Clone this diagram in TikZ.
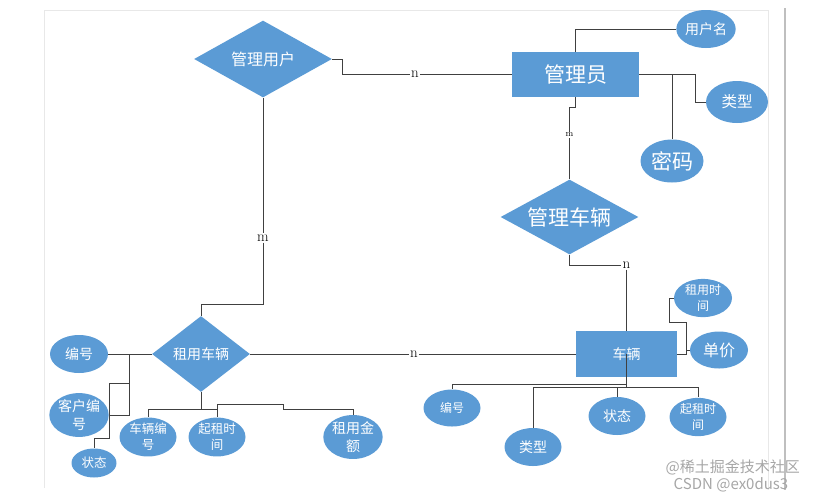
\documentclass[tikz,border=0pt]{standalone}
\usepackage{fontspec}
\usepackage{tikz}
\usetikzlibrary{shapes.geometric}
\newfontfamily\cjk{Noto Sans CJK SC}
\newcommand{\zh}[1]{\cjk\fontsize{#1}{18}\selectfont}
\newcommand{\zhtight}[1]{\cjk\fontsize{#1}{16}\selectfont}
\definecolor{erblue}{RGB}{91, 155, 213}
\definecolor{erline}{RGB}{64, 64, 64}
\definecolor{framegrey}{RGB}{232, 232, 232}
\tikzstyle{entity} = [
  rectangle,
  fill=erblue,
  text=white,
  inner sep=0pt,
]
\tikzstyle{relation} = [
  diamond,
  fill=erblue,
  text=white,
  inner sep=0pt,
  aspect=1.8,
]
\tikzstyle{attr} = [
  ellipse,
  fill=erblue,
  text=white,
  inner sep=0pt,
  align=center,
  minimum width=57pt,
  minimum height=38pt,
]
\tikzstyle{card} = [
  inner sep=1pt,
  text=black,
  font=\fontsize{15}{15}\selectfont,
]

\begin{document}
\begin{tikzpicture}[x=1pt, y=-1pt, erline, line width=0.8pt]
            \useasboundingbox (0,0) rectangle (833,499);

            % Frame of the page
            \draw[framegrey] (44,488) -- (44,10) -- (768,10) -- (768,490);
            \draw[black!25, line width=1.2pt] (785,8) -- (785,490);

            % Entities
            \node[entity, minimum width=127pt, minimum height=45pt, font=\zh{21}] (admin) at (575.5,74.5) {管理员};
            \node[entity, minimum width=101pt, minimum height=46pt, font=\zh{14}] (car) at (626.5,354) {车辆};

            % Relations
            \node[relation, minimum width=138pt, minimum height=77pt, font=\zh{16}] (manageuser) at (263,59) {管理用户};
            \node[relation, minimum width=138pt, minimum height=75pt, font=\zh{21}] (managecar) at (569.5,217) {管理车辆};
            \node[relation, minimum width=98pt, minimum height=76pt, aspect=1.3, font=\zh{14}] (rentcar) at (201,354) {租用车辆};

            % Attributes of the admin
            \node[attr, font=\zh{14}] (uname) at (706,29) {用户名};
            \node[attr, minimum width=62pt, minimum height=42pt, font=\zh{15.5}] (atype) at (737,102) {类型};
            \node[attr, minimum width=63pt, minimum height=43pt, font=\zh{21}] (pwd) at (672,161) {密码};

            % Attributes of the car
            \node[attr, minimum width=58pt, font=\zhtight{12}] (renttime) at (703,298) {租用时\\间};
            \node[attr, minimum width=58pt, minimum height=37pt, font=\zh{16}] (price) at (719,350) {单价};
            \node[attr, minimum height=37pt, font=\zh{12}] (carno) at (452,408) {编号};
            \node[attr, font=\zh{14}] (cartype) at (533,447) {类型};
            \node[attr, font=\zh{14}] (carstate) at (617,416) {状态};
            \node[attr, font=\zhtight{12}] (carstart) at (698,417) {起租时\\间};

            % Attributes of the renting
            \node[attr, minimum width=58pt, font=\zh{14}] (rentno) at (79,354) {编号};
            \node[attr, font=\zh{14}] (custno) at (79,415) {客户编\\号};
            \node[attr, minimum width=45pt, minimum height=29pt, font=\zh{12.5}] (rentstate) at (94,463) {状态};
            \node[attr, font=\zhtight{12.5}] (rentcarno) at (148,437) {车辆编\\号};
            \node[attr, font=\zhtight{12.5}] (rentstart) at (217,437) {起租时\\间};
            \node[attr, font=\zh{14}] (rentmoney) at (353,437) {租用金\\额};

            % Cardinalities
            \node[card] (n1) at (415,74.5) {n};
            \node[card, font=\fontsize{9}{9}\selectfont] (m1) at (569.5,135) {m};
            \node[card] (n2) at (626.5,265) {n};
            \node[card] (m2) at (263,238) {m};
            \node[card] (n3) at (414,354) {n};

            % Links of the admin
            \draw (manageuser.east) -- ++(10,0) |- (n1.west);
            \draw (n1.east) -- (admin.west);
            \draw (admin.north) |- (uname.west);
            \draw (admin.east) -- ++(56,0) |- (atype.west);
            \draw (pwd.north) -- (pwd.north |- admin.east);
            \draw (admin.south) -- ++(0,10) -| (m1.north);
            \draw (m1.south) -- (managecar.north);
            \draw (managecar.south) |- (n2.west);
            \draw (n2.south) -- (car.north);

            % Links of the car
            \draw (car.east) -- ++(9,0) coordinate (cp) -- ++(0,-32) -- ++(-17,0) |- (renttime.west);
            \draw (price.west) -- (price.west -| cp);
            \draw (car.center) -- ++(0,30) -| (carno.north);
            \draw (car.center) -- ++(0,33) coordinate (cb);
            \draw (cb) -| (cartype.north);
            \draw (cb) -| (carstate.north);
            \draw (cb) -| (carstart.north);

            % Links of the renting
            \draw (rentcar.east) -- (n3.west);
            \draw (n3.east) -- (car.west);
            \draw (manageuser.south) -- (m2.north);
            \draw (m2.south) -- ++(0,62) -| (rentcar.north);
            \draw (rentno.east) -- (rentcar.west);
            \draw (rentcar.west) -- ++(-22,0) coordinate (rl) -- ++(0,61) -- (custno.east);
            \draw (rl) ++(0,29) -- ++(-20,0) -- ++(0,55) -| (rentstate.north);
            \draw (rentcar.south) -- ++(0,17) coordinate (rb) -| (rentcarno.north);
            \draw (rb) -- ++(16,0) -- ++(0,-5) coordinate (rs) -- ++(66,0) -- ++(0,5) -| (rentmoney.north);
            \draw (rs) -- (rentstart.north);

            % Watermark
            \node[text=black!35, font=\zh{15}, anchor=west] (wm1) at (662,467) {@稀土掘金技术社区};
            \node[text=black!35, font=\zh{15}, anchor=west] (wm2) at (670,485) {CSDN @ex0dus3};
          \end{tikzpicture}
\end{document}
